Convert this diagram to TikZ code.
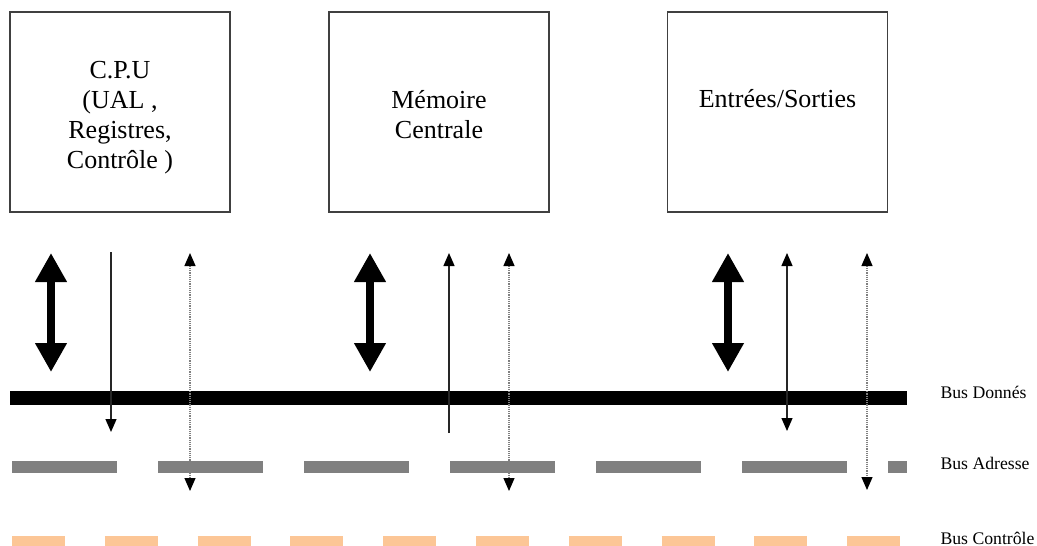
\documentclass[tikz,border=0pt]{standalone}
\usepackage{fontspec}
\setmainfont{Liberation Serif}
\usetikzlibrary{arrows.meta}

\definecolor{busgray}{RGB}{128,128,128}
\definecolor{buspeach}{RGB}{252,198,150}

\tikzset{
    unit/.style={draw=black!75, line width=1.5pt, minimum width=220pt, minimum height=200pt},
    unittext/.style={align=center, font=\fontsize{26}{30}\selectfont},
    buslabel/.style={anchor=west, font=\fontsize{17.7}{20}\selectfont},
    bigarrow/.style={line width=8pt, {Triangle[width=30pt,length=29pt]}-{Triangle[width=30pt,length=29pt]}},
    thinline/.style={line width=1.3pt, black!85},
    dotline/.style={line width=1.2pt, gray, densely dotted}
}

\begin{document}
\begin{tikzpicture}[x=1pt, y=-1pt]
    \useasboundingbox (0,0) rectangle (1037,546);

    % The three units
    \node[unit] (cpu) at (120,112) {};
    \node[unit] (mem) at (439,112) {};
    \node[unit] (io) at (777.5,112) {};
    \node[unittext] (cputext) at ([yshift=-6pt]cpu.center) {C.P.U\\(UAL ,\\Registres,\\Contrôle )};
    \node[unittext] (memtext) at ([yshift=-3pt]mem.center) {Mémoire\\Centrale};
    \node[unittext] (iotext) at ([yshift=13pt]io.center) {Entrées/Sorties};

    % Buses
    \draw[line width=14pt] (10,398) -- (907,398);
    \draw[line width=12pt, busgray, dash pattern=on 105pt off 41pt] (12,467) -- (907,467);
    \draw[line width=10pt, buspeach, dash pattern=on 53pt off 39.8pt] (12,541) -- (900,541);

    % Bus names
    \node[buslabel] (ldata) at (937,392) {Bus Donnés};
    \node[buslabel] (laddr) at (937,463) {Bus Adresse};
    \node[buslabel] (lctrl) at (937,538) {Bus Contrôle};

    % Arrow ends
    \coordinate (cpu-d1) at (51,253);  \coordinate (cpu-d2) at (51,372);
    \coordinate (cpu-a1) at (111,252); \coordinate (cpu-a2) at (111,432);
    \coordinate (cpu-c1) at (190,253); \coordinate (cpu-c2) at (190,491);
    \coordinate (mem-d1) at (370,253); \coordinate (mem-d2) at (370,372);
    \coordinate (mem-a1) at (449,253); \coordinate (mem-a2) at (449,433);
    \coordinate (mem-c1) at (509,253); \coordinate (mem-c2) at (509,491);
    \coordinate (io-d1) at (728,253);  \coordinate (io-d2) at (728,372);
    \coordinate (io-a1) at (787,253);  \coordinate (io-a2) at (787,431);
    \coordinate (io-c1) at (867,253);  \coordinate (io-c2) at (867,490);

    % Data arrows
    \draw[bigarrow] (cpu-d1) -- (cpu-d2);
    \draw[bigarrow] (mem-d1) -- (mem-d2);
    \draw[bigarrow] (io-d1) -- (io-d2);

    % Address arrows
    \draw[thinline, -{Triangle[width=11pt,length=13pt,black]}] (cpu-a1) -- (cpu-a2);
    \draw[thinline, -{Triangle[width=11pt,length=13pt,black]}] (mem-a2) -- (mem-a1);
    \draw[thinline, {Triangle[width=11pt,length=13pt,black]}-{Triangle[width=11pt,length=13pt,black]}] (io-a1) -- (io-a2);

    % Control arrows
    \draw[dotline, {Triangle[width=11pt,length=13pt,black]}-{Triangle[width=11pt,length=13pt,black]}] (cpu-c1) -- (cpu-c2);
    \draw[dotline, {Triangle[width=11pt,length=13pt,black]}-{Triangle[width=11pt,length=13pt,black]}] (mem-c1) -- (mem-c2);
    \draw[dotline, {Triangle[width=11pt,length=13pt,black]}-{Triangle[width=11pt,length=13pt,black]}] (io-c1) -- (io-c2);
\end{tikzpicture}
\end{document}
